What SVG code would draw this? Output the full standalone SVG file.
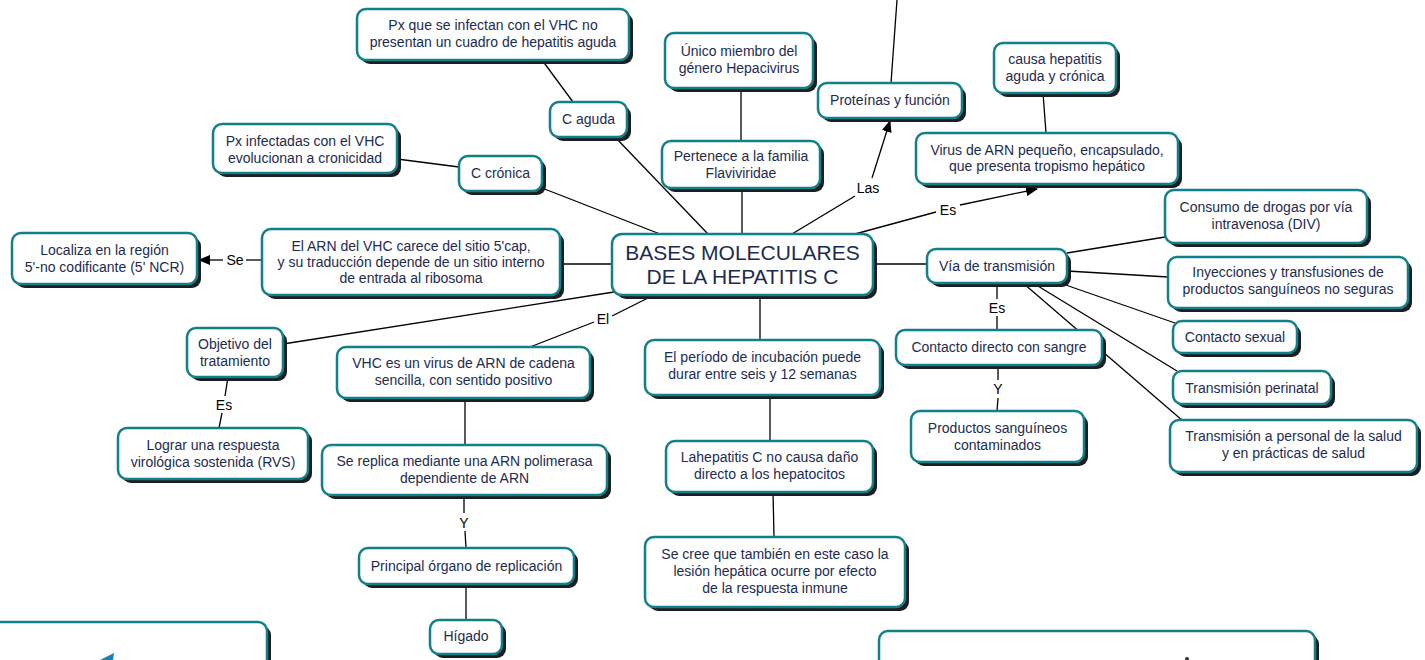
<svg xmlns="http://www.w3.org/2000/svg" width="1425" height="660" viewBox="0 0 1425 660">
<defs>
<style>
.sh{fill:#1e1e1e}
.bx{fill:#ffffff;stroke:#11808a;stroke-width:2.5}
.t{font-family:"Liberation Sans",Arial,sans-serif;font-size:14px;fill:#1d2b4f;text-anchor:middle}
.big{font-size:21px}
.ln{stroke:#000;stroke-width:1.3;fill:none}
.lb{font-family:"Liberation Sans",Arial,sans-serif;font-size:14px;fill:#000;text-anchor:middle}
</style>
<marker id="arr" viewBox="0 0 12 10" refX="11" refY="5" markerWidth="12" markerHeight="10" markerUnits="userSpaceOnUse" orient="auto">
<path d="M0,0 L12,5 L0,10 z" fill="#000"/>
</marker>
</defs>
<rect width="1425" height="660" fill="#ffffff"/>

<g id="connectors">
<line class="ln" x1="897" y1="0" x2="891" y2="83"/>
<line class="ln" x1="1043" y1="93" x2="1046" y2="133"/>
<line class="ln" x1="792" y1="234" x2="855" y2="196"/>
<line class="ln" x1="872" y1="178" x2="890" y2="121" marker-end="url(#arr)"/>
<text class="lb" x="868" y="193">Las</text>
<line class="ln" x1="855" y1="234" x2="936" y2="212"/>
<line class="ln" x1="960" y1="205" x2="1037" y2="189" marker-end="url(#arr)"/>
<text class="lb" x="948" y="215">Es</text>
<line class="ln" x1="741" y1="88" x2="741" y2="141"/>
<line class="ln" x1="742" y1="188" x2="742" y2="234"/>
<line class="ln" x1="542" y1="60" x2="573" y2="102"/>
<line class="ln" x1="615" y1="137" x2="708" y2="234"/>
<line class="ln" x1="397" y1="159" x2="459" y2="167"/>
<line class="ln" x1="542" y1="188" x2="660" y2="234"/>
<line class="ln" x1="560" y1="264" x2="612" y2="264"/>
<line class="ln" x1="262" y1="260" x2="246" y2="260"/>
<line class="ln" x1="223" y1="260" x2="199" y2="260" marker-end="url(#arr)"/>
<text class="lb" x="235" y="265">Se</text>
<line class="ln" x1="283" y1="344" x2="614" y2="292"/>
<line class="ln" x1="228" y1="377" x2="225" y2="396"/>
<line class="ln" x1="222" y1="413" x2="219" y2="428"/>
<text class="lb" x="224" y="410">Es</text>
<line class="ln" x1="530" y1="347" x2="594" y2="322"/>
<line class="ln" x1="612" y1="316" x2="652" y2="296"/>
<text class="lb" x="603" y="324">El</text>
<line class="ln" x1="465" y1="398" x2="465" y2="445"/>
<line class="ln" x1="464" y1="495" x2="464" y2="513"/>
<line class="ln" x1="465" y1="531" x2="466" y2="548"/>
<text class="lb" x="464" y="528">Y</text>
<line class="ln" x1="466" y1="584" x2="466" y2="620"/>
<line class="ln" x1="760" y1="295" x2="760" y2="340"/>
<line class="ln" x1="770" y1="395" x2="770" y2="441"/>
<line class="ln" x1="773" y1="492" x2="774" y2="537"/>
<line class="ln" x1="873" y1="264" x2="927" y2="264"/>
<line class="ln" x1="997" y1="283" x2="997" y2="299"/>
<line class="ln" x1="997" y1="316" x2="997" y2="330"/>
<text class="lb" x="997" y="313">Es</text>
<line class="ln" x1="998" y1="365" x2="998" y2="380"/>
<line class="ln" x1="998" y1="398" x2="997" y2="411"/>
<text class="lb" x="998" y="394">Y</text>
<line class="ln" x1="1067" y1="253" x2="1165" y2="237"/>
<line class="ln" x1="1067" y1="271" x2="1168" y2="277"/>
<line class="ln" x1="1060" y1="283" x2="1175" y2="323"/>
<line class="ln" x1="1033" y1="283" x2="1177" y2="371"/>
<line class="ln" x1="1023" y1="283" x2="1183" y2="421"/>
</g>

<g id="n-center"><rect class="sh" x="616" y="238" width="261" height="61" rx="10"/><rect class="bx" x="612" y="234" width="261" height="61" rx="10"/><text class="t big" x="742.5" y="260">BASES MOLECULARES</text><text class="t big" x="742.5" y="284">DE LA HEPATITIS C</text></g>

<g id="n-px-aguda"><rect class="sh" x="361" y="13" width="272" height="51" rx="9"/><rect class="bx" x="357" y="9" width="272" height="51" rx="9"/><text class="t" x="493" y="30">Px que se infectan con el VHC no</text><text class="t" x="493" y="47">presentan un cuadro de hepatitis aguda</text></g>

<g id="n-c-aguda"><rect class="sh" x="554" y="106" width="77" height="35" rx="9"/><rect class="bx" x="550" y="102" width="77" height="35" rx="9"/><text class="t" x="588.5" y="124">C aguda</text></g>

<g id="n-px-cron"><rect class="sh" x="217" y="128" width="184" height="49" rx="9"/><rect class="bx" x="213" y="124" width="184" height="49" rx="9"/><text class="t" x="305" y="146">Px infectadas con el VHC</text><text class="t" x="305" y="163">evolucionan a cronicidad</text></g>

<g id="n-c-cron"><rect class="sh" x="463" y="160" width="83" height="35" rx="9"/><rect class="bx" x="459" y="156" width="83" height="35" rx="9"/><text class="t" x="500.5" y="178">C crónica</text></g>

<g id="n-unico"><rect class="sh" x="669" y="37" width="148" height="55" rx="9"/><rect class="bx" x="665" y="33" width="148" height="55" rx="9"/><text class="t" x="739" y="56">Único miembro del</text><text class="t" x="739" y="73">género Hepacivirus</text></g>

<g id="n-pertenece"><rect class="sh" x="666" y="145" width="158" height="47" rx="9"/><rect class="bx" x="662" y="141" width="158" height="47" rx="9"/><text class="t" x="741" y="161">Pertenece a la familia</text><text class="t" x="741" y="178">Flaviviridae</text></g>

<g id="n-proteinas"><rect class="sh" x="822" y="87" width="144" height="35" rx="9"/><rect class="bx" x="818" y="83" width="144" height="35" rx="9"/><text class="t" x="890" y="105">Proteínas y función</text></g>

<g id="n-causa"><rect class="sh" x="998" y="47" width="122" height="50" rx="9"/><rect class="bx" x="994" y="43" width="122" height="50" rx="9"/><text class="t" x="1055" y="64">causa hepatitis</text><text class="t" x="1055" y="81">aguda y crónica</text></g>

<g id="n-virus"><rect class="sh" x="920" y="137" width="262" height="51" rx="9"/><rect class="bx" x="916" y="133" width="262" height="51" rx="9"/><text class="t" x="1047" y="155">Virus de ARN pequeño, encapsulado,</text><text class="t" x="1047" y="171">que presenta tropismo hepático</text></g>

<g id="n-localiza"><rect class="sh" x="16" y="237" width="185" height="51" rx="9"/><rect class="bx" x="12" y="233" width="185" height="51" rx="9"/><text class="t" x="104.5" y="255">Localiza en la región</text><text class="t" x="104.5" y="272">5'-no codificante (5' NCR)</text></g>

<g id="n-arn"><rect class="sh" x="266" y="233" width="298" height="66" rx="9"/><rect class="bx" x="262" y="229" width="298" height="66" rx="9"/><text class="t" x="411" y="251">El ARN del VHC carece del sitio 5'cap,</text><text class="t" x="411" y="267">y su traducción depende de un sitio interno</text><text class="t" x="411" y="283">de entrada al ribosoma</text></g>

<g id="n-objetivo"><rect class="sh" x="191" y="332" width="96" height="49" rx="9"/><rect class="bx" x="187" y="328" width="96" height="49" rx="9"/><text class="t" x="235" y="349">Objetivo del</text><text class="t" x="235" y="366">tratamiento</text></g>

<g id="n-lograr"><rect class="sh" x="122" y="432" width="190" height="51" rx="9"/><rect class="bx" x="118" y="428" width="190" height="51" rx="9"/><text class="t" x="213" y="450">Lograr una respuesta</text><text class="t" x="213" y="467">virológica sostenida (RVS)</text></g>

<g id="n-vhc"><rect class="sh" x="341" y="351" width="253" height="51" rx="9"/><rect class="bx" x="337" y="347" width="253" height="51" rx="9"/><text class="t" x="463.5" y="368">VHC es un virus de ARN de cadena</text><text class="t" x="463.5" y="385">sencilla, con sentido positivo</text></g>

<g id="n-replica"><rect class="sh" x="326" y="449" width="285" height="50" rx="9"/><rect class="bx" x="322" y="445" width="285" height="50" rx="9"/><text class="t" x="464.5" y="466">Se replica mediante una ARN polimerasa</text><text class="t" x="464.5" y="483">dependiente de ARN</text></g>

<g id="n-principal"><rect class="sh" x="363" y="552" width="215" height="36" rx="9"/><rect class="bx" x="359" y="548" width="215" height="36" rx="9"/><text class="t" x="466.5" y="571">Principal órgano de replicación</text></g>

<g id="n-higado"><rect class="sh" x="434" y="624" width="72" height="34" rx="9"/><rect class="bx" x="430" y="620" width="72" height="34" rx="9"/><text class="t" x="466" y="641">Hígado</text></g>

<g id="n-periodo"><rect class="sh" x="649" y="344" width="235" height="55" rx="9"/><rect class="bx" x="645" y="340" width="235" height="55" rx="9"/><text class="t" x="762.5" y="362">El período de incubación puede</text><text class="t" x="762.5" y="379">durar entre seis y 12 semanas</text></g>

<g id="n-lahepatitis"><rect class="sh" x="670" y="445" width="207" height="51" rx="9"/><rect class="bx" x="666" y="441" width="207" height="51" rx="9"/><text class="t" x="769.5" y="462">Lahepatitis C no causa daño</text><text class="t" x="769.5" y="479">directo a los hepatocitos</text></g>

<g id="n-secree"><rect class="sh" x="649" y="541" width="260" height="70" rx="9"/><rect class="bx" x="645" y="537" width="260" height="70" rx="9"/><text class="t" x="775" y="559">Se cree que también en este caso la</text><text class="t" x="775" y="576">lesión hepática ocurre por efecto</text><text class="t" x="775" y="593">de la respuesta inmune</text></g>

<g id="n-via"><rect class="sh" x="931" y="253" width="140" height="34" rx="9"/><rect class="bx" x="927" y="249" width="140" height="34" rx="9"/><text class="t" x="997" y="271">Vía de transmisión</text></g>

<g id="n-contacto-dir"><rect class="sh" x="900" y="334" width="206" height="35" rx="9"/><rect class="bx" x="896" y="330" width="206" height="35" rx="9"/><text class="t" x="999" y="352">Contacto directo con sangre</text></g>

<g id="n-productos"><rect class="sh" x="915" y="415" width="173" height="51" rx="9"/><rect class="bx" x="911" y="411" width="173" height="51" rx="9"/><text class="t" x="997.5" y="433">Productos sanguíneos</text><text class="t" x="997.5" y="450">contaminados</text></g>

<g id="n-consumo"><rect class="sh" x="1169" y="194" width="202" height="53" rx="9"/><rect class="bx" x="1165" y="190" width="202" height="53" rx="9"/><text class="t" x="1266" y="212">Consumo de drogas por vía</text><text class="t" x="1266" y="229">intravenosa (DIV)</text></g>

<g id="n-inyecciones"><rect class="sh" x="1172" y="261" width="240" height="51" rx="9"/><rect class="bx" x="1168" y="257" width="240" height="51" rx="9"/><text class="t" x="1288" y="277">Inyecciones y transfusiones de</text><text class="t" x="1288" y="294">productos sanguíneos no seguras</text></g>

<g id="n-sexual"><rect class="sh" x="1177" y="325" width="124" height="32" rx="9"/><rect class="bx" x="1173" y="321" width="124" height="32" rx="9"/><text class="t" x="1235" y="342">Contacto sexual</text></g>

<g id="n-perinatal"><rect class="sh" x="1177" y="375" width="158" height="33" rx="9"/><rect class="bx" x="1173" y="371" width="158" height="33" rx="9"/><text class="t" x="1252" y="393">Transmisión perinatal</text></g>

<g id="n-personal"><rect class="sh" x="1174" y="424" width="247" height="52" rx="9"/><rect class="bx" x="1170" y="420" width="247" height="52" rx="9"/><text class="t" x="1293.5" y="441">Transmisión a personal de la salud</text><text class="t" x="1293.5" y="458">y en prácticas de salud</text></g>

<g id="n-bottom-left"><rect class="sh" x="-16" y="626" width="287" height="80" rx="9"/><rect class="bx" x="-20" y="622" width="287" height="80" rx="9"/><polygon points="100,660 114,653 113,660" fill="#1a80b0"/></g>

<g id="n-bottom-right"><rect class="sh" x="883" y="635" width="436" height="80" rx="9"/><rect class="bx" x="879" y="631" width="436" height="80" rx="9"/><circle cx="1187" cy="659" r="2" fill="#333"/></g>
</svg>
